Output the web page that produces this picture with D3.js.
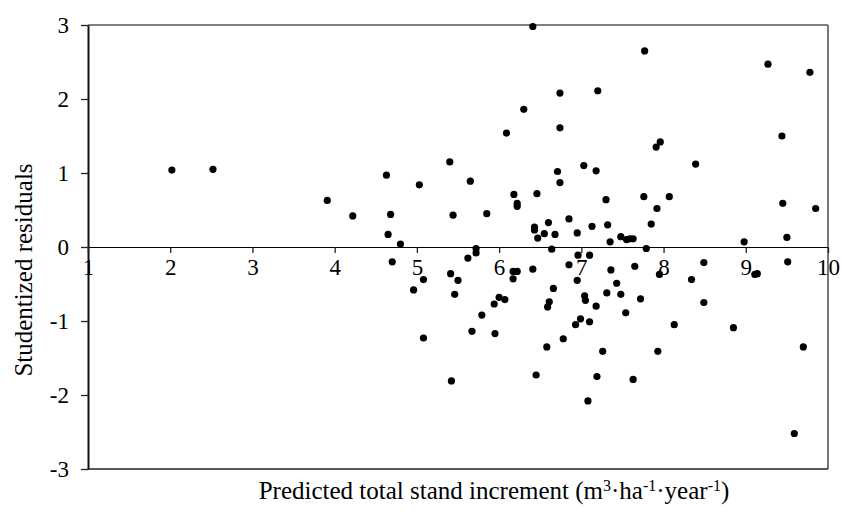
<!DOCTYPE html>
<html><head><meta charset="utf-8">
<script src="https://cdn.jsdelivr.net/npm/d3@7"></script>
<style>body{margin:0;background:#fff;} svg{display:block;} text{font-family:"Liberation Serif","Times New Roman",serif;fill:#000;}</style>
</head><body>
<script>
const xTicks = [1,2,3,4,5,6,7,8,9,10];
const yTicks = [-3,-2,-1,0,1,2,3];
const predicted = [2.02,2.52,3.91,4.22,4.63,4.68,4.65,4.80,4.70,5.03,4.96,5.08,5.08,5.40,5.44,5.41,5.50,5.46,5.42,5.65,
5.72,5.72,5.62,5.67,5.79,5.85,5.94,6.00,6.07,5.95,6.09,6.30,6.41,6.18,6.22,6.22,6.17,6.22,6.17,6.46,
6.43,6.43,6.47,6.55,6.60,6.68,6.71,6.74,6.74,6.74,6.64,6.41,6.45,6.58,6.66,6.61,6.59,6.85,6.95,7.03,
7.18,7.20,7.30,7.13,7.32,7.35,7.48,7.55,7.59,7.63,7.77,7.76,7.85,7.92,7.91,7.96,7.79,8.07,8.39,8.98,
9.27,9.44,9.45,9.50,9.78,9.85,6.85,6.96,7.10,6.95,6.78,7.04,7.05,6.99,6.93,7.10,7.08,7.19,7.26,7.18,
7.31,7.36,7.43,7.48,7.54,7.65,7.72,7.63,7.93,7.95,8.13,8.34,8.49,8.49,8.85,9.11,9.14,9.51,9.70,9.59];
const residuals = [1.04,1.05,0.63,0.42,0.97,0.44,0.17,0.04,-0.20,0.84,-0.58,-0.44,-1.23,1.15,0.43,-0.36,-0.45,-0.64,-1.81,0.89,
-0.02,-0.08,-0.15,-1.14,-0.92,0.45,-0.77,-0.68,-0.71,-1.17,1.54,1.86,2.98,0.71,0.59,0.55,-0.33,-0.33,-0.43,0.72,
0.27,0.23,0.12,0.18,0.33,0.17,1.02,0.87,1.61,2.08,-0.03,-0.30,-1.73,-1.35,-0.56,-0.74,-0.81,0.38,0.19,1.10,
1.03,2.11,0.64,0.28,0.30,0.07,0.14,0.10,0.11,0.11,2.65,0.68,0.31,0.52,1.35,1.42,-0.02,0.68,1.12,0.07,
2.47,1.50,0.59,0.13,2.36,0.52,-0.24,-0.11,-0.11,-0.45,-1.24,-0.66,-0.72,-0.97,-1.05,-1.01,-2.08,-1.75,-1.41,-0.80,
-0.62,-0.31,-0.49,-0.64,-0.89,-0.26,-0.70,-1.79,-1.41,-0.37,-1.05,-0.44,-0.21,-0.75,-1.09,-0.37,-0.36,-0.20,-1.35,-2.52];

const W = 842, H = 516;
const L = 88, R = 828, T = 25, B = 469;
const FONT = "'Liberation Serif','Times New Roman',serif";
const svg = d3.select("body").append("svg").attr("width", W).attr("height", H);
const x = d3.scaleLinear().domain([1,10]).range([L,R]);
const y = d3.scaleLinear().domain([-3,3]).range([B,T]);

// frame: top & right & bottom
svg.append("line").attr("x1",L).attr("x2",R).attr("y1",T).attr("y2",T).attr("stroke","#555").attr("stroke-width",1.4);
svg.append("line").attr("x1",R).attr("x2",R).attr("y1",T).attr("y2",B).attr("stroke","#555").attr("stroke-width",1.6);
svg.append("line").attr("x1",L).attr("x2",R).attr("y1",B).attr("y2",B).attr("stroke","#222").attr("stroke-width",1.4);

// y axis
const yAxis = svg.append("g").attr("transform",`translate(${L},0)`)
  .call(d3.axisLeft(y).tickValues(yTicks).tickSize(7).tickPadding(12).tickFormat(d => String(d)).tickSizeOuter(0));
yAxis.attr("font-family", FONT).attr("font-size", 23);
yAxis.select(".domain").attr("stroke","#111").attr("stroke-width",2);
yAxis.selectAll(".tick line").attr("stroke","#222").attr("stroke-width",1.3);
yAxis.selectAll("text").attr("fill","#000");

// x axis at y=0
const xAxis = svg.append("g").attr("transform",`translate(0,${y(0)})`)
  .call(d3.axisBottom(x).tickValues(xTicks).tickSize(6).tickPadding(6).tickFormat(d => String(d)).tickSizeOuter(0));
xAxis.attr("font-family", FONT).attr("font-size", 23);
xAxis.select(".domain").attr("stroke","#000").attr("stroke-width",1.2);
xAxis.selectAll(".tick line").attr("stroke","#222").attr("stroke-width",1.3);
xAxis.selectAll("text").attr("fill","#000");

// points
svg.append("g").selectAll("circle").data(predicted.map((p,i)=>[p,residuals[i]])).join("circle")
  .attr("cx", d=>x(d[0])).attr("cy", d=>y(d[1])).attr("r",3.6).attr("fill","#000");

// axis titles
svg.append("text").attr("transform","translate(32,270) rotate(-90)").attr("text-anchor","middle")
  .style("font-family",FONT).style("font-size","25px").text("Studentized residuals");
const xt = svg.append("text").attr("x",494).attr("y",499).attr("text-anchor","middle")
  .style("font-family",FONT).style("font-size","25px");
xt.append("tspan").text("Predicted total stand increment (m");
xt.append("tspan").attr("dy",-8).style("font-size","16px").text("3");
xt.append("tspan").attr("dy",8).text("·ha");
xt.append("tspan").attr("dy",-8).style("font-size","16px").text("-1");
xt.append("tspan").attr("dy",8).text("·year");
xt.append("tspan").attr("dy",-8).style("font-size","16px").text("-1");
xt.append("tspan").attr("dy",8).text(")");
</script>
</body></html>
